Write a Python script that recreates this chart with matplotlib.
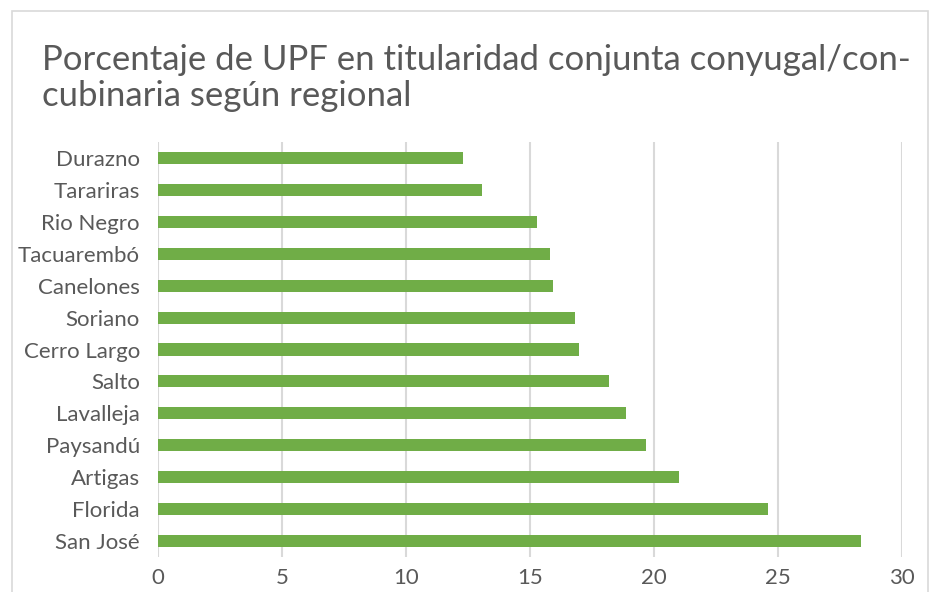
import matplotlib
matplotlib.use('Agg')
import matplotlib.pyplot as plt
from matplotlib.patches import Rectangle

plt.rcParams['font.family'] = ['Lato', 'DejaVu Sans']

# datos (de arriba hacia abajo)
regionales = ['Durazno', 'Tarariras', 'Rio Negro', 'Tacuarembó', 'Canelones',
              'Soriano', 'Cerro Largo', 'Salto', 'Lavalleja', 'Paysandú',
              'Artigas', 'Florida', 'San José']
porcentajes = [12.3, 13.05, 15.28, 15.8, 15.93, 16.81, 16.97, 18.19,
               18.87, 19.68, 21.0, 24.6, 28.35]
x_ticks = [0, 5, 10, 15, 20, 25, 30]

W, H = 930, 592
fig = plt.figure(figsize=(W / 100, H / 100), dpi=100)

# marco del gráfico
fig.patches.append(Rectangle((12 / W, -0.05), (928 - 12) / W, (H - 11) / H + 0.05,
                             transform=fig.transFigure, fill=False,
                             edgecolor='#D9D9D9', linewidth=1.2))

ax = fig.add_axes([158 / W, 1 - 557 / H, (902 - 158) / W, (557 - 142) / H])
y = list(range(len(regionales)))
ax.barh(y, porcentajes, height=0.38, color='#70AD47', zorder=3)
ax.set_ylim(len(regionales) - 0.5, -0.5)
ax.set_xlim(0, 30)
ax.set_xticks(x_ticks)
ax.set_yticks(y)
ax.set_yticklabels(regionales)
ax.tick_params(axis='both', length=0, labelsize=16, colors='#595959')
ax.tick_params(axis='y', pad=13)
ax.tick_params(axis='x', pad=8)
ax.grid(axis='x', color='#D9D9D9', linewidth=1.5, zorder=0)
for s in ax.spines.values():
    s.set_visible(False)

fig.text(42 / W, 1 - 44 / H,
         'Porcentaje de UPF en titularidad conjunta conyugal/con-\ncubinaria según regional',
         fontsize=25, color='#595959', ha='left', va='top', linespacing=1.17)

fig.savefig('out.png', dpi=100)
